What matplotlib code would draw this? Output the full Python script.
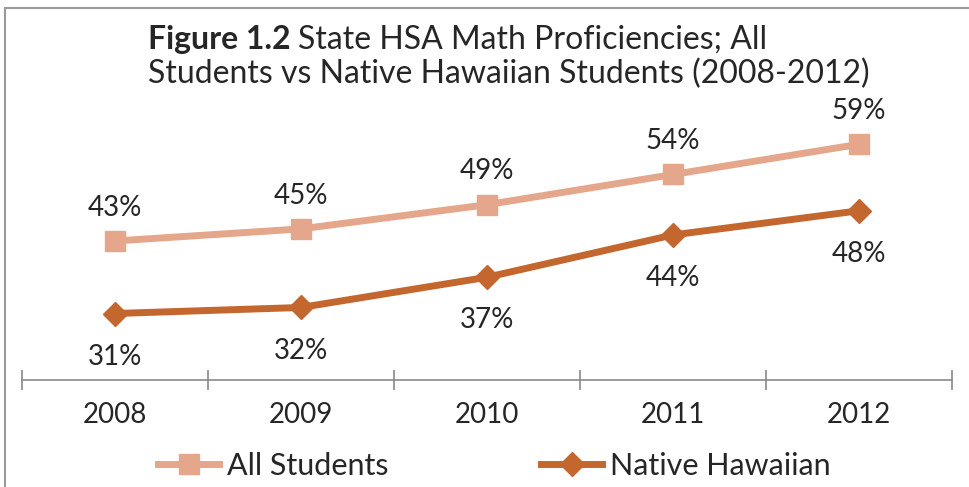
import matplotlib
matplotlib.use("Agg")
import matplotlib.pyplot as plt
from matplotlib.patches import Rectangle

plt.rcParams['font.family'] = ['Lato', 'DejaVu Sans']

# data
years = ['2008', '2009', '2010', '2011', '2012']
all_students = [43, 45, 49, 54, 59]
native_hawaiian = [31, 32, 37, 44, 48]

light = '#E5A78C'
dark = '#C4672F'
txt = '#262626'

fig = plt.figure(figsize=(9.69, 4.87), dpi=100)
W, H = 969, 487

# frame around the figure (top and left edges visible)
fig.patches.append(Rectangle((5 / W, -0.1), 1.2, (H - 8) / H + 0.1, transform=fig.transFigure,
                             fill=False, edgecolor='#9a9a9a', linewidth=1.5))

ax = fig.add_axes([22 / W, (H - 380) / H, (952 - 22) / W, (380 - 108) / H])
x = list(range(len(years)))

ax.plot(x, all_students, color=light, lw=5, marker='s', ms=15, label='All Students', zorder=3)
ax.plot(x, native_hawaiian, color=dark, lw=5, marker='D', ms=12, label='Native Hawaiian', zorder=3)

for xi, v in zip(x, all_students):
    ax.annotate(f'{v}%', (xi, v), xytext=(0, 24), textcoords='offset points',
                ha='center', va='center', fontsize=20, color=txt)
for xi, v in zip(x, native_hawaiian):
    ax.annotate(f'{v}%', (xi, v), xytext=(0, -31), textcoords='offset points',
                ha='center', va='center', fontsize=20, color=txt)

ax.set_xlim(-0.5, len(years) - 0.5)
ax.set_ylim(20, 65)
for s in ['top', 'right', 'left']:
    ax.spines[s].set_visible(False)
ax.spines['bottom'].set_color('#8a8a8a')
ax.spines['bottom'].set_linewidth(1.2)
ax.set_yticks([])

ax.set_xticks([i - 0.5 for i in range(len(years) + 1)])
ax.set_xticklabels([])
ax.tick_params(axis='x', direction='inout', length=14, width=1.2, color='#8a8a8a')
ax.set_xticks(x, minor=True)
ax.set_xticklabels(years, minor=True, fontsize=20, color=txt)
ax.tick_params(axis='x', which='minor', length=0, pad=16)

# title: bold figure number followed by regular text
t1 = fig.text(148 / W, 1 - 40 / H, 'Figure 1.2', fontsize=23, color=txt, va='center', ha='left',
              fontweight='bold')
fig.canvas.draw()
bb = t1.get_window_extent()
fig.text((bb.x1 + 7) / W, 1 - 40 / H, 'State HSA Math Proficiencies; All', fontsize=23,
         color=txt, va='center', ha='left')
fig.text(148 / W, 1 - 74 / H, 'Students vs Native Hawaiian Students (2008-2012)', fontsize=23,
         color=txt, va='center', ha='left')

fig.legend(loc='center', bbox_to_anchor=(0.51, 1 - 466 / H), ncol=2, frameon=False,
           fontsize=22, handlelength=2.0, handletextpad=0.25, columnspacing=5.0,
           labelcolor=txt)

fig.savefig('out.png', dpi=100)
